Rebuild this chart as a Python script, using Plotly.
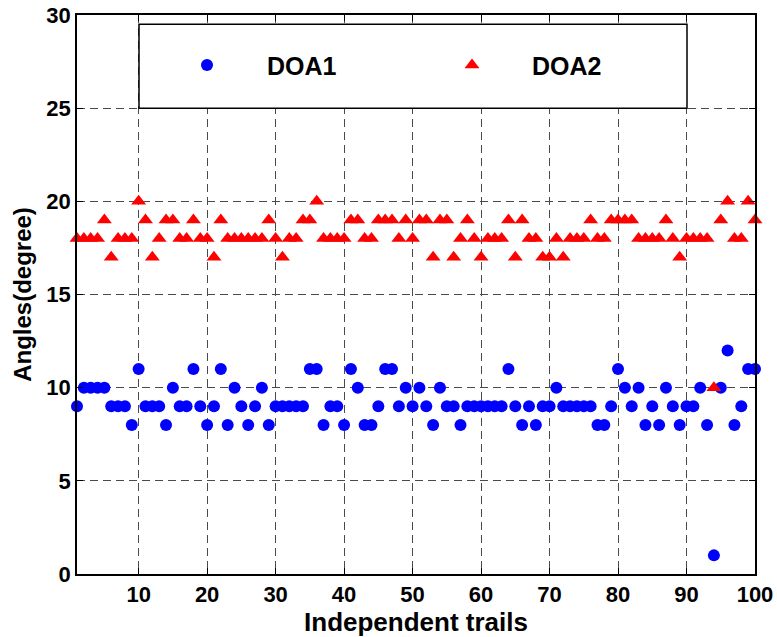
import plotly.graph_objects as go

trials = list(range(1, 101))

doa1 = [9, 10, 10, 10, 10, 9, 9, 9, 8, 11,
        9, 9, 9, 8, 10, 9, 9, 11, 9, 8,
        9, 11, 8, 10, 9, 8, 9, 10, 8, 9,
        9, 9, 9, 9, 11, 11, 8, 9, 9, 8,
        11, 10, 8, 8, 9, 11, 11, 9, 10, 9,
        10, 9, 8, 10, 9, 9, 8, 9, 9, 9,
        9, 9, 9, 11, 9, 8, 9, 8, 9, 9,
        10, 9, 9, 9, 9, 9, 8, 8, 9, 11,
        10, 9, 10, 8, 9, 8, 10, 9, 8, 9,
        9, 10, 8, 1, 10, 12, 8, 9, 11, 11]

doa2 = [18, 18, 18, 18, 19, 17, 18, 18, 18, 20,
        19, 17, 18, 19, 19, 18, 18, 19, 18, 18,
        17, 19, 18, 18, 18, 18, 18, 18, 19, 18,
        17, 18, 18, 19, 19, 20, 18, 18, 18, 18,
        19, 19, 18, 18, 19, 19, 19, 18, 19, 18,
        19, 19, 17, 19, 19, 17, 18, 19, 18, 17,
        18, 18, 18, 19, 17, 19, 18, 18, 17, 17,
        18, 17, 18, 18, 18, 19, 18, 18, 19, 19,
        19, 19, 18, 18, 18, 18, 19, 18, 17, 18,
        18, 18, 18, 10, 19, 20, 18, 18, 20, 19]

x_ticks = [10, 20, 30, 40, 50, 60, 70, 80, 90, 100]
y_ticks = [0, 5, 10, 15, 20, 25, 30]

FONT = "Liberation Sans, Arial, Helvetica, sans-serif"

fig = go.Figure()
fig.add_trace(go.Scatter(
    x=trials, y=doa1, mode="markers", name="DOA1",
    marker=dict(symbol="circle", size=12, color="#0000ff", line=dict(width=0)),
    cliponaxis=False,
))
fig.add_trace(go.Scatter(
    x=trials, y=doa2, mode="markers", name="DOA2",
    marker=dict(symbol="triangle-up", size=13, color="#ff0000", line=dict(width=0)),
    cliponaxis=False,
))

axis_common = dict(
    showline=True, linecolor="black", linewidth=1.5, mirror="allticks",
    ticks="inside", ticklen=6, tickcolor="black", tickwidth=1,
    showgrid=True, gridcolor="#4a4a4a", gridwidth=1, griddash="8px,5px",
    zeroline=False, automargin=False,
    tickfont=dict(family=FONT, size=22, color="black", weight="bold"),
)

fig.update_xaxes(
    range=[1, 100], tickvals=x_ticks,
    title=dict(text="Independent trails",
               font=dict(family=FONT, size=26, color="black", weight="bold"),
               standoff=0),
    **axis_common,
)
fig.update_yaxes(
    range=[0, 30], tickvals=y_ticks,
    title=dict(text="Angles(degree)",
               font=dict(family=FONT, size=24, color="black", weight="bold"),
               standoff=8),
    **axis_common,
)

# legend frame
fig.add_shape(type="rect", xref="paper", yref="y",
              x0=(139 - 77) / 678, x1=(687 - 77) / 678, y0=25, y1=29.5,
              line=dict(color="black", width=1.5), fillcolor="white", layer="above")

fig.update_layout(
    width=777, height=637,
    margin=dict(l=77, r=22, t=15, b=63, autoexpand=False),
    paper_bgcolor="white", plot_bgcolor="white",
    showlegend=True,
    legend=dict(
        orientation="h", x=(147 - 77) / 678, xanchor="left",
        y=0.91, yanchor="middle",
        bgcolor="rgba(0,0,0,0)", borderwidth=0,
        itemwidth=110, entrywidth=140, entrywidthmode="pixels",
        font=dict(family=FONT, size=25, color="black", weight="bold"),
    ),
)

fig.write_html(
    "out.html",
    config={"displayModeBar": False},
    post_script="document.body.style.margin='0';document.body.style.overflow='hidden';",
)
